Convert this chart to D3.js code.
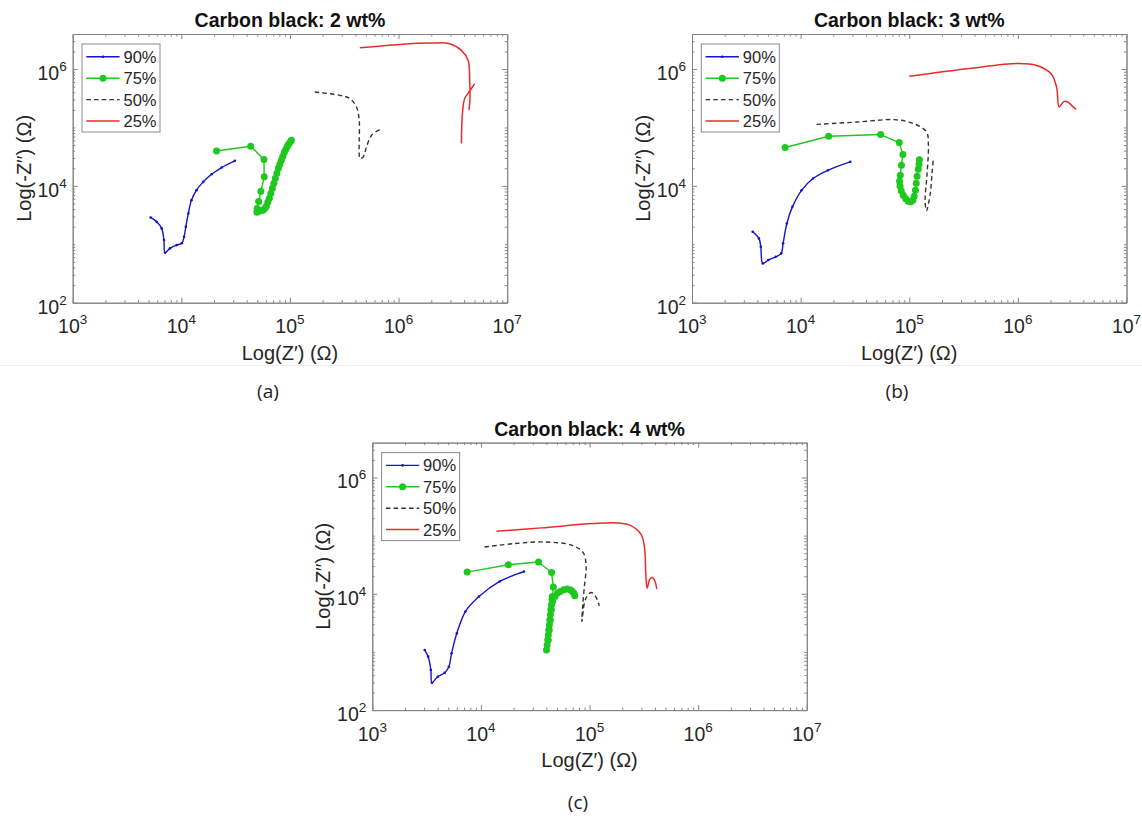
<!DOCTYPE html>
<html>
<head>
<meta charset="utf-8">
<script src="https://cdn.jsdelivr.net/npm/d3@7"></script>
<style>
  body { margin: 0; background: #fff; }
  svg { display: block; font-family: "Liberation Sans", Arial, sans-serif; }
</style>
</head>
<body>
<svg id="fig" width="1142" height="816"></svg>
<script>
/* global d3 */

// ---- data (Z' in ohm, -Z'' in ohm) ----
var legendLabels = ["90%", "75%", "50%", "25%"];
var titles = ["Carbon black: 2 wt%", "Carbon black: 3 wt%", "Carbon black: 4 wt%"];
var captions = ["(a)", "(b)", "(c)"];
var xTicks = [1e3, 1e4, 1e5, 1e6, 1e7];
var yTicks = [1e2, 1e4, 1e6];
var xDomain = [1e3, 1e7];
var yDomain = [1e2, 3.98e6];

// panel (a) 2 wt%
var a90 = [[5.22e3,2.88e3],[5.93e3,2.42e3],[6.59e3,1.87e3],[6.92e3,1.18e3],[7.07e3,715],[7.85e3,851],
  [9.05e3,969],[1.01e4,1.04e3],[1.06e4,1.34e3],[1.10e4,1.99e3],[1.16e4,3.37e3],[1.24e4,5.70e3],
  [1.38e4,8.44e3],[1.59e4,1.17e4],[1.90e4,1.58e4],[2.35e4,2.06e4],[3.11e4,2.68e4]];
var a75 = [[2.11e4,3.96e4],[4.35e4,4.78e4],[5.76e4,2.82e4],[5.8e4,1.43e4],[5.4e4,8.1e3],[5.15e4,5.4e3],
  [4.99e4,4.1e3],[4.96e4,3.55e3],[5.17e4,3.69e3],[5.40e4,3.77e3],[5.63e4,3.84e3],[5.88e4,4.08e3],
  [6.07e4,4.50e3],[6.26e4,5.27e3],[6.46e4,6.16e3],[6.67e4,7.50e3],[6.89e4,9.14e3],[7.11e4,1.11e4],
  [7.34e4,1.35e4],[7.58e4,1.65e4],[7.82e4,2.01e4],[8.07e4,2.35e4],[8.33e4,2.75e4],[8.60e4,3.22e4],
  [8.88e4,3.77e4],[9.17e4,4.24e4],[9.47e4,4.77e4],[9.77e4,5.26e4],[1.01e5,5.70e4],[1.03e5,6.04e4]];
var a50 = [[1.69e5,4.05e5],[2.88e5,3.55e5],[3.56e5,3.12e5],[4.1e5,2.24e5],[4.34e5,1.33e5],[4.34e5,6.0e4],
  [4.34e5,3.58e4],[4.4e5,2.94e4],[4.72e5,3.13e4],[5.07e5,4.65e4],[5.64e5,7.36e4],[6.72e5,9.2e4]];
var a25 = [[4.4e5,2.32e6],[1.03e6,2.64e6],[1.94e6,2.78e6],[2.96e6,2.72e6],[3.79e6,2.09e6],[4.36e6,1.41e6],
  [4.52e6,6.0e5],[4.55e6,3.3e5],[4.45e6,1.97e5], null,
  [3.79e6,5.3e4],[3.87e6,1.73e5],[4.06e6,3.12e5],[4.45e6,4.04e5],[5.02e6,5.62e5]];

// panel (b) 3 wt%
var b90 = [[3.62e3,1.64e3],[4.13e3,1.26e3],[4.3e3,906],[4.48e3,471],[5.04e3,537],[5.9e3,611],[6.63e3,700],
  [6.9e3,1.04e3],[7.47e3,2.27e3],[8.4e3,4.37e3],[1.02e4,8.4e3],[1.3e4,1.34e4],[1.78e4,1.85e4],[2.86e4,2.57e4]];
var b75 = [[7.2e3,4.53e4],[1.81e4,7.08e4],[5.45e4,7.56e4],[8.08e4,5.52e4],[8.74e4,3.44e4],[8.47e4,2.26e4],
  [8.27e4,1.52e4],[8.14e4,1.20e4],[8.23e4,9.88e3],[8.44e4,8.28e3],[8.81e4,6.93e3],[9.28e4,6.04e3],
  [9.79e4,5.48e3],[1.03e5,5.37e3],[1.08e5,5.70e3],[1.11e5,6.67e3],[1.14e5,8.44e3],[1.16e5,1.11e4],
  [1.18e5,1.46e4],[1.21e5,1.93e4],[1.23e5,2.35e4],[1.24e5,2.81e4]];
var b50 = [[1.4e4,1.13e5],[3.34e4,1.24e5],[7.36e4,1.36e5],[1.09e5,1.17e5],[1.44e5,8.4e4],[1.5e5,5.3e4],
  [1.46e5,1.63e4],[1.4e5,5.7e3],[1.44e5,3.74e3],[1.56e5,7.4e3],[1.62e5,1.63e4],[1.66e5,2.75e4]];
var b25 = [[1.0e5,7.5e5],[3.56e5,1.02e6],[9.9e5,1.24e6],[1.47e6,1.16e6],[2.02e6,8.3e5],[2.27e6,4.92e5],
  [2.4e6,2.24e5],[2.66e6,2.8e5],[2.88e6,2.73e5],[3.19e6,2.3e5],[3.45e6,2.05e5]];

// panel (c) 4 wt%
var c90 = [[3.04e3,1.08e3],[3.27e3,830],[3.46e3,490],[3.54e3,296],[4.0e3,375],[4.64e3,440],[5.07e3,558],
  [5.37e3,948],[6.0e3,2.1e3],[7.2e3,4.95e3],[9.6e3,8.97e3],[1.49e4,1.63e4],[2.49e4,2.42e4]];
var c75 = [[7.46e3,2.36e4],[1.79e4,3.16e4],[3.39e4,3.52e4],[4.47e4,2.33e4],[4.64e4,1.31e4],[4.54e4,8.98e3],
  [4.51e4,7.88e3],[4.46e4,6.46e3],[4.41e4,5.30e3],[4.36e4,4.34e3],[4.31e4,3.56e3],[4.27e4,2.92e3],
  [4.22e4,2.39e3],[4.17e4,1.96e3],[4.13e4,1.61e3],[4.07e4,1.32e3],[4.01e4,1.08e3],
  [4.16e4,1.61e3],[4.25e4,2.39e3],[4.35e4,3.56e3],[4.44e4,5.30e3],[4.57e4,7.38e3],[4.81e4,8.98e3],
  [5.07e4,1.03e4],[5.37e4,1.10e4],[5.78e4,1.17e4],[6.22e4,1.21e4],[6.69e4,1.16e4],[6.94e4,1.10e4],
  [7.20e4,1.01e4],[7.31e4,9.24e3]];
var c50 = [[1.08e4,6.38e4],[2.0e4,7.28e4],[3.86e4,7.78e4],[6.93e4,6.8e4],[8.77e4,5.04e4],[9.3e4,2.96e4],
  [8.96e4,1.34e4],[8.64e4,6.04e3],[8.5e4,3.33e3],[8.96e4,6.9e3],[9.43e4,8.97e3],[1.04e5,1.05e4],
  [1.14e5,8.97e3],[1.23e5,6.2e3]];
var c25 = [[1.39e4,1.19e5],[3.6e4,1.36e5],[1.08e5,1.61e5],[1.8e5,1.65e5],[2.4e5,1.49e5],[2.99e5,1.04e5],
  [3.22e5,5.74e4],[3.29e5,2.28e4],[3.39e5,1.25e4],[3.59e5,1.79e4],[3.78e5,1.91e4],[4.01e5,1.63e4],[4.16e5,1.2e4]];

// ---- styles / layout ----
var styles = [
  { color: "#1414c8", width: 1.4, dash: null, r: 1.3, smooth: true },
  { color: "#1ec81e", width: 1.4, dash: null, r: 3.5, smooth: false },
  { color: "#333333", width: 1.4, dash: "4.5,3.2", r: 0, smooth: true },
  { color: "#ec2a2a", width: 1.5, dash: null, r: 0, smooth: true }
];

var panels = [
  { left: 72.7, top: 34, w: 434.5, h: 268.7, cap: [268, 398], data: [a90, a75, a50, a25] },
  { left: 692, top: 34, w: 434.5, h: 268.7, cap: [897, 398], data: [b90, b75, b50, b25] },
  { left: 372.3, top: 442.6, w: 434.5, h: 267.5, cap: [578, 809], data: [c90, c75, c50, c25] }
];

var svg = d3.select("#fig");
var axisColor = "#858585";

// faint seam between the two rows of the composite
svg.append("line").attr("x1", 0).attr("x2", 1142).attr("y1", 365.5).attr("y2", 365.5)
  .attr("stroke", "#eeeeee").attr("stroke-width", 1);

panels.forEach(function(p, i) {
  var g = svg.append("g").attr("transform", "translate(" + p.left + "," + p.top + ")");
  var x = d3.scaleLog().domain(xDomain).range([0, p.w]);
  var y = d3.scaleLog().domain(yDomain).range([p.h, 0]);

  var xMinor = [], yMinor = [];
  for (var d = 3; d < 7; d++) for (var k = 2; k <= 9; k++) xMinor.push(k * Math.pow(10, d));
  for (var e = 2; e < 7; e++) for (var m = 1; m <= 9; m++) {
    var v = m * Math.pow(10, e);
    if (v < yDomain[1] && yTicks.indexOf(v) < 0) yMinor.push(v);
  }

  function styleAxis(sel) {
    sel.selectAll("path,line").attr("stroke", axisColor).attr("stroke-width", 1);
    sel.selectAll("text").remove();
  }

  // major + minor ticks on all four sides, pointing inward
  [[d3.axisBottom, "translate(0," + p.h + ")", x, xTicks, xMinor],
   [d3.axisTop, "translate(0,0)", x, xTicks, xMinor],
   [d3.axisLeft, "translate(0,0)", y, yTicks, yMinor],
   [d3.axisRight, "translate(" + p.w + ",0)", y, yTicks, yMinor]].forEach(function(a) {
    g.append("g").attr("transform", a[1])
      .call(a[0](a[2]).tickValues(a[4]).tickSize(-2.5).tickSizeOuter(0).tickFormat(""))
      .call(styleAxis);
    g.append("g").attr("transform", a[1])
      .call(a[0](a[2]).tickValues(a[3]).tickSize(-5).tickSizeOuter(0).tickFormat(""))
      .call(styleAxis);
  });

  // tick labels 10^n
  xTicks.forEach(function(t) {
    var tx = g.append("text").attr("x", x(t)).attr("y", p.h + 30.5)
      .attr("text-anchor", "middle").attr("font-size", 19.5).attr("fill", "#262626");
    tx.append("tspan").text("10");
    tx.append("tspan").attr("dy", -9).attr("font-size", 13.5).text(Math.round(Math.log10(t)));
  });
  yTicks.forEach(function(t) {
    var ty = g.append("text").attr("x", -6).attr("y", y(t) + 11)
      .attr("text-anchor", "end").attr("font-size", 19.5).attr("fill", "#262626");
    ty.append("tspan").text("10");
    ty.append("tspan").attr("dy", -9).attr("font-size", 13.5).text(Math.round(Math.log10(t)));
  });

  // title and axis labels
  g.append("text").attr("x", p.w / 2).attr("y", -7).attr("text-anchor", "middle")
    .attr("font-size", 19.5).attr("font-weight", "bold").attr("fill", "#111").text(titles[i]);
  g.append("text").attr("x", p.w / 2).attr("y", p.h + 57).attr("text-anchor", "middle")
    .attr("font-size", 20).attr("fill", "#262626").text("Log(Z\u2032) (\u03A9)");
  g.append("text").attr("transform", "translate(-42," + (p.h / 2) + ") rotate(-90)")
    .attr("text-anchor", "middle").attr("font-size", 20).attr("fill", "#262626")
    .text("Log(-Z\u2032\u2032) (\u03A9)");

  // series
  function makeLine(smooth) {
    return d3.line().defined(function(d) { return d !== null; })
      .curve(smooth ? d3.curveCatmullRom.alpha(0.5) : d3.curveLinear)
      .x(function(d) { return x(d[0]); }).y(function(d) { return y(d[1]); });
  }

  p.data.forEach(function(series, j) {
    var s = styles[j];
    g.append("path").datum(series).attr("d", makeLine(s.smooth)).attr("fill", "none")
      .attr("stroke", s.color).attr("stroke-width", s.width)
      .attr("stroke-dasharray", s.dash).attr("stroke-linejoin", "round");
    if (s.r > 0) {
      g.append("g").selectAll("circle").data(series.filter(function(d) { return d !== null; }))
        .join("circle").attr("cx", function(d) { return x(d[0]); }).attr("cy", function(d) { return y(d[1]); })
        .attr("r", s.r).attr("fill", s.color);
    }
  });

  // legend
  var lg = g.append("g").attr("transform", "translate(9.3,10)");
  lg.append("rect").attr("width", 78).attr("height", 88).attr("fill", "#fff")
    .attr("stroke", "#8a8a8a").attr("stroke-width", 1);
  legendLabels.forEach(function(lab, j) {
    var s = styles[j], ly = 12.8 + j * 21.4;
    lg.append("line").attr("x1", 4.3).attr("x2", 37.6).attr("y1", ly).attr("y2", ly)
      .attr("stroke", s.color).attr("stroke-width", s.width).attr("stroke-dasharray", s.dash);
    if (s.r > 0) lg.append("circle").attr("cx", 21).attr("cy", ly).attr("r", s.r).attr("fill", s.color);
    lg.append("text").attr("x", 41.5).attr("y", ly + 6).attr("font-size", 16.5)
      .attr("fill", "#262626").text(lab);
  });

  // caption
  svg.append("text").attr("x", p.cap[0]).attr("y", p.cap[1]).attr("text-anchor", "middle")
    .attr("font-family", "'Open Sans', 'Noto Sans', sans-serif").attr("font-size", 19)
    .attr("fill", "#222").text(captions[i]);
});
</script>
</body>
</html>
